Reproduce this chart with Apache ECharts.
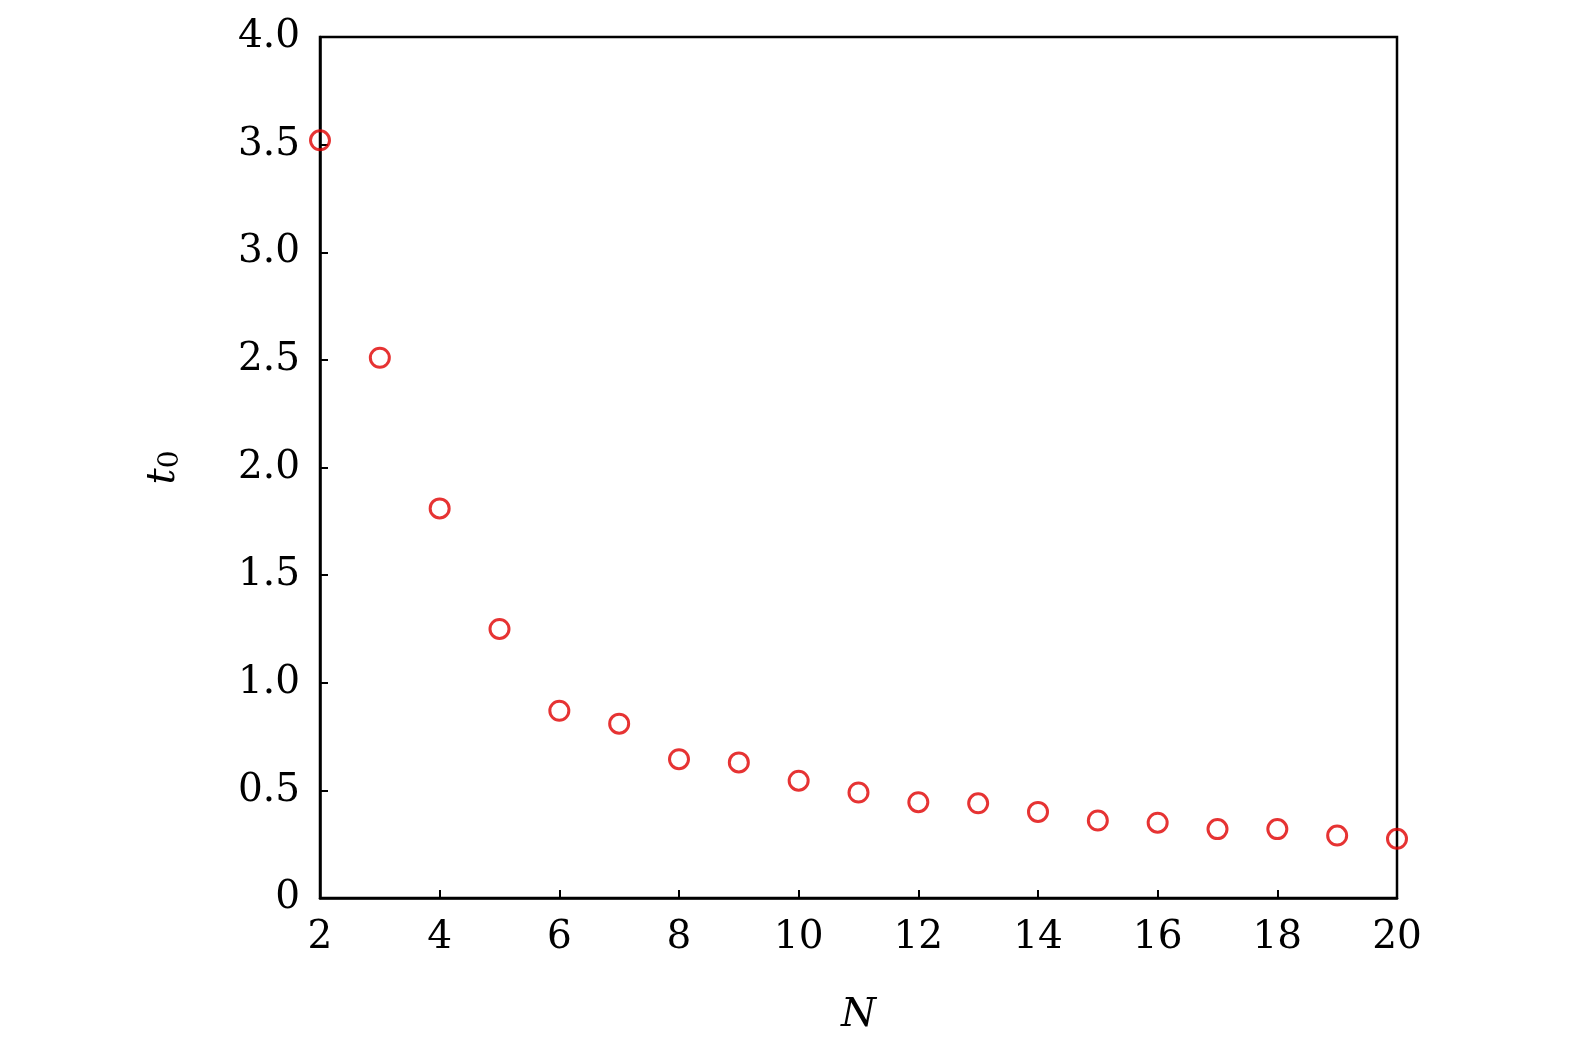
<!DOCTYPE html>
<html>
<head>
<meta charset="utf-8">
<script src="https://cdn.jsdelivr.net/npm/echarts@6/dist/echarts.min.js"></script>
<style>html,body{margin:0;padding:0;background:#fff;overflow:hidden}#c{width:1575px;height:1059px}</style>
</head>
<body>
<div id="c"></div>
<script>
const N = [2,3,4,5,6,7,8,9,10,11,12,13,14,15,16,17,18,19,20];
const t0 = [3.52,2.51,1.81,1.25,0.87,0.81,0.645,0.63,0.545,0.49,0.445,0.44,0.40,0.36,0.35,0.32,0.32,0.29,0.275];
const xTicks = [2,4,6,8,10,12,14,16,18,20];
const yTicks = [0,0.5,1.0,1.5,2.0,2.5,3.0,3.5,4.0];

const font = '"DejaVu Serif", serif';
const chart = echarts.init(document.getElementById('c'));
chart.setOption({
  animation:false,
  backgroundColor:'#fff',
  grid:{left:320,right:178,top:37,bottom:161,outerBoundsMode:'none',containLabel:false,show:true,borderColor:'#000',borderWidth:2.5,backgroundColor:'transparent'},
  xAxis:{
    type:'value',min:xTicks[0],max:xTicks[xTicks.length-1],interval:2,
    name:'N',nameLocation:'middle',nameGap:98,
    nameTextStyle:{fontFamily:font,fontSize:40,fontStyle:'italic',color:'#000'},
    axisLine:{show:true,lineStyle:{color:'#000',width:2.5}},
    axisTick:{show:true,inside:true,length:8,lineStyle:{color:'#000',width:2}},
    axisLabel:{fontFamily:font,fontSize:39,color:'#000',margin:20},
    splitLine:{show:false}
  },
  yAxis:{
    type:'value',min:yTicks[0],max:yTicks[yTicks.length-1],interval:0.5,
    name:'{i|t}{s|0}',nameLocation:'middle',nameGap:135,nameRotate:90,
    nameTextStyle:{rich:{i:{fontFamily:font,fontSize:40,fontStyle:'italic',color:'#000'},s:{fontFamily:font,fontSize:28,color:'#000',verticalAlign:'bottom',padding:[14,0,0,0]}}},
    axisLine:{show:true,lineStyle:{color:'#000',width:2.5}},
    axisTick:{show:true,inside:true,length:8,lineStyle:{color:'#000',width:2}},
    axisLabel:{fontFamily:font,fontSize:39,color:'#000',margin:20,formatter:v=>v===0?'0':v.toFixed(1)},
    splitLine:{show:false}
  },
  series:[{
    type:'scatter',
    data:N.map((n,i)=>[n,t0[i]]),
    symbol:'circle',symbolSize:19,clip:false,
    itemStyle:{color:'rgba(255,255,255,0)',borderColor:'#e00000',borderWidth:3}
  }]
});
</script>
</body>
</html>
